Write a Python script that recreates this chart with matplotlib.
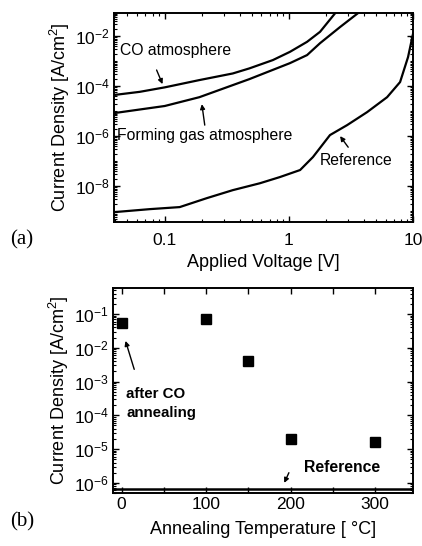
import numpy as np
import matplotlib
matplotlib.use("Agg")
import matplotlib.pyplot as plt
from matplotlib.ticker import FixedLocator, LogLocator, MultipleLocator, NullFormatter, LogFormatterSciNotation

plt.rcParams['font.family'] = ['Liberation Sans', 'DejaVu Sans']
plt.rcParams['mathtext.fontset'] = 'custom'
plt.rcParams['mathtext.rm'] = 'Liberation Sans'

# (a) current density vs applied voltage
v_co = [0.039, 0.063, 0.1, 0.19, 0.353, 0.48, 0.743, 1.02, 1.40, 1.78, 2.35]
j_co = [4.4e-5, 5.9e-5, 8.9e-5, 1.74e-4, 3.2e-4, 5.1e-4, 1.1e-3, 2.35e-3, 5.9e-3, 1.48e-2, 8.1e-2]

v_fg = [0.039, 0.1, 0.19, 0.48, 1.02, 1.40, 1.78, 2.58, 3.6]
j_fg = [8.3e-6, 1.6e-5, 3.6e-5, 1.9e-4, 8.3e-4, 1.74e-3, 5.2e-3, 2.3e-2, 8.3e-2]

v_ref = [0.039, 0.0757, 0.132, 0.218, 0.353, 0.583, 0.845, 1.23, 1.56, 2.14, 2.94, 4.26, 6.17, 7.85, 9.1, 10.0]
j_ref = [9.1e-10, 1.2e-9, 1.45e-9, 3.3e-9, 6.9e-9, 1.3e-8, 2.3e-8, 4.4e-8, 1.45e-7, 1.1e-6, 2.75e-6,
         9.1e-6, 3.6e-5, 1.45e-4, 1.45e-3, 1.3e-2]

# (b) current density vs annealing temperature
temps = [0, 100, 150, 200, 300]
j_anneal = [5.6e-2, 7.0e-2, 4.0e-3, 2.0e-5, 1.6e-5]
j_reference = 6.6e-7

fig = plt.figure(figsize=(4.22, 5.46), dpi=100)

tick_fs = 12.5
lab_fs = 13
note_fs = 11.3

def style_axes(ax):
    for s in ax.spines.values():
        s.set_linewidth(1.4)
    ax.tick_params(which='both', direction='in', top=True, right=True, labelsize=tick_fs)
    ax.tick_params(which='major', length=4, width=1)
    ax.tick_params(which='minor', length=2, width=0.8)

# top panel
ax1 = fig.add_axes([0.270, 0.593, 0.709, 0.383])
ax1.plot(v_co, j_co, color='black', lw=1.6)
ax1.plot(v_fg, j_fg, color='black', lw=1.6)
ax1.plot(v_ref, j_ref, color='black', lw=1.6)
ax1.set_xscale('log')
ax1.set_yscale('log')
ax1.set_xlim(0.039, 10)
ax1.set_ylim(3.6e-10, 8.3e-2)
ax1.yaxis.set_major_locator(FixedLocator([1e-8, 1e-6, 1e-4, 1e-2]))
ax1.yaxis.set_major_formatter(LogFormatterSciNotation())
ax1.yaxis.set_minor_locator(LogLocator(base=10, subs=np.arange(1, 10), numticks=30))
ax1.yaxis.set_minor_formatter(NullFormatter())
ax1.xaxis.set_major_locator(FixedLocator([0.1, 1, 10]))
ax1.set_xticklabels(['0.1', '1', '10'])
ax1.xaxis.set_minor_locator(LogLocator(base=10, subs=np.arange(2, 10), numticks=30))
ax1.xaxis.set_minor_formatter(NullFormatter())
style_axes(ax1)
ax1.tick_params(axis='x', pad=8)
ax1.tick_params(axis='y', pad=3)
ax1.set_xlabel('Applied Voltage [V]', fontsize=lab_fs, labelpad=4)
ax1.set_ylabel('Current Density [A/cm$^2$]', fontsize=lab_fs)
ax1.yaxis.set_label_coords(-0.14, 0.5)

arrow = dict(arrowstyle='-|>', color='black', lw=1.0, mutation_scale=7, shrinkA=0, shrinkB=0)
ax1.text(0.0434, 2.75e-3, 'CO atmosphere', fontsize=note_fs, ha='left', va='center')
ax1.annotate('', xy=(0.096, 1.2e-4), xytext=(0.086, 4.4e-4), arrowprops=arrow)
ax1.text(0.041, 1.1e-6, 'Forming gas atmosphere', fontsize=note_fs, ha='left', va='center')
ax1.annotate('', xy=(0.199, 1.9e-5), xytext=(0.21, 2.75e-6), arrowprops=arrow)
ax1.text(1.78, 1.1e-7, 'Reference', fontsize=note_fs, ha='left', va='center')
ax1.annotate('', xy=(2.58, 1.0e-6), xytext=(3.0, 3.6e-7), arrowprops=arrow)

# bottom panel
ax2 = fig.add_axes([0.268, 0.097, 0.711, 0.376])
ax2.plot(temps, j_anneal, 's', color='black', ms=7)
ax2.axhline(j_reference, color='black', lw=1.8)
ax2.set_yscale('log')
ax2.set_xlim(-10, 345)
ax2.set_ylim(5e-7, 0.6)
ax2.yaxis.set_major_locator(FixedLocator([1e-6, 1e-5, 1e-4, 1e-3, 1e-2, 1e-1]))
ax2.yaxis.set_major_formatter(LogFormatterSciNotation())
ax2.yaxis.set_minor_locator(LogLocator(base=10, subs=np.arange(2, 10), numticks=30))
ax2.yaxis.set_minor_formatter(NullFormatter())
ax2.xaxis.set_major_locator(MultipleLocator(100))
ax2.xaxis.set_minor_locator(MultipleLocator(50))
style_axes(ax2)
ax2.tick_params(axis='x', which='minor', length=4, width=1)
ax2.tick_params(axis='x', pad=3)
ax2.tick_params(axis='y', pad=3)
ax2.set_xlabel('Annealing Temperature [ °C]', fontsize=lab_fs, labelpad=6)
ax2.set_ylabel('Current Density [A/cm$^2$]', fontsize=lab_fs)
ax2.yaxis.set_label_coords(-0.14, 0.5)

ax2.text(5.8, 2.3e-4, 'after CO\nannealing', fontsize=10.8, fontweight='bold', ha='left', va='center', linespacing=1.45)
ax2.annotate('', xy=(4.7, 1.6e-2), xytext=(15, 2.3e-3), arrowprops=arrow)
ax2.text(216, 2.9e-6, 'Reference', fontsize=note_fs, fontweight='bold', ha='left', va='center')
ax2.annotate('', xy=(192.5, 1.0e-6), xytext=(198, 2.0e-6), arrowprops=arrow)

fig.text(0.024, 1 - 240 / 546, '(a)', fontsize=15, family=['Liberation Serif', 'DejaVu Serif'], ha='left', va='center')
fig.text(0.024, 1 - 522 / 546, '(b)', fontsize=15, family=['Liberation Serif', 'DejaVu Serif'], ha='left', va='center')

fig.savefig('out.png', dpi=100)
